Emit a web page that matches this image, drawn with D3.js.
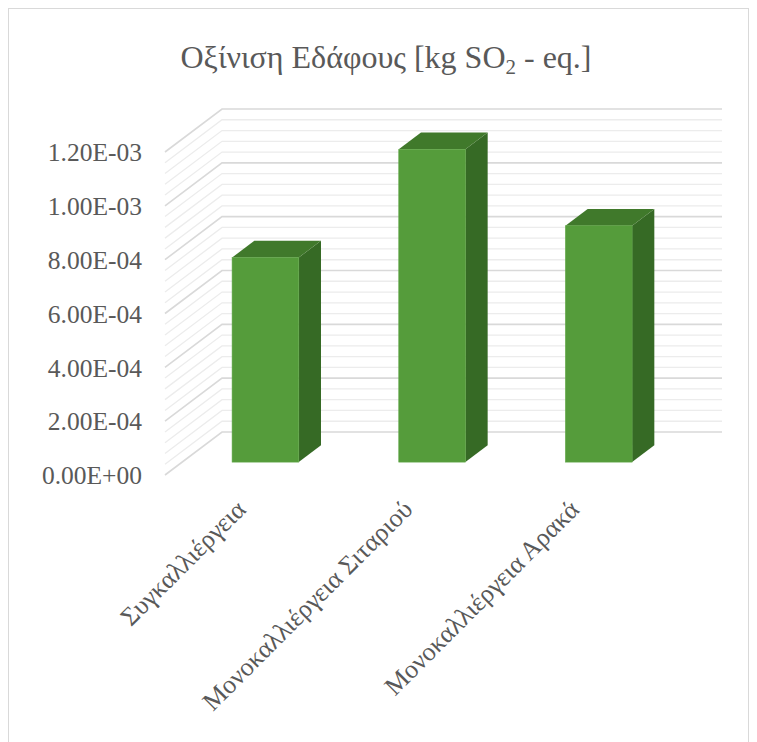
<!DOCTYPE html>
<html><head><meta charset="utf-8">
<script src="https://cdn.jsdelivr.net/npm/d3@7"></script>
<style>html,body{margin:0;padding:0;background:#fff;}svg{display:block;}</style>
</head><body>
<svg id="chart" width="757" height="742"></svg>
<script>
const categories = ["Συγκαλλιέργεια", "Μονοκαλλιέργεια Σιταριού", "Μονοκαλλιέργεια Αρακά"];
const values = [7.6e-4, 1.162e-3, 8.78e-4];
const yTickValues = [0, 2e-4, 4e-4, 6e-4, 8e-4, 1e-3, 1.2e-3];
const yTickLabels = ["0.00E+00", "2.00E-04", "4.00E-04", "6.00E-04", "8.00E-04", "1.00E-03", "1.20E-03"];
const minorStep = 4e-5;

const svg = d3.select("#chart");
const font = "'Liberation Serif','Times New Roman',serif";
const textColor = "#595959";

// chart border
svg.append("rect").attr("x", 8.5).attr("y", 8.5).attr("width", 740).attr("height", 745)
  .attr("fill", "none").attr("stroke", "#d9d9d9").attr("stroke-width", 1);

// 3D geometry
const originX = 165, originY = 475;      // front-left floor corner
const depthDX = 57, depthDY = -43;       // floor depth vector
const plotW = 500;
const x = d3.scaleBand().domain(categories).range([0, plotW]).paddingInner(0.6).paddingOuter(0.3);
const y = d3.scaleLinear().domain([0, 1.2e-3]).range([0, 323]);
const P = (px, v, f) => [originX + px + depthDX * f, originY + depthDY * f - y(v)];

// gridlines
const nMinor = Math.round(1.2e-3 / minorStep);
const gridVals = d3.range(0, nMinor + 1).map(i => i * minorStep);
const gGrid = svg.append("g");
gridVals.forEach((v, i) => {
  if (i % 5 === 0) return;
  const pts = [P(0, v, 0), P(0, v, 1), P(plotW, v, 1)];
  gGrid.append("path").attr("d", d3.line()(pts)).attr("fill", "none")
    .attr("stroke", "#ececec").attr("stroke-width", 1.3);
});
gridVals.forEach((v, i) => {
  if (i % 5 !== 0) return;
  const pts = [P(0, v, 0), P(0, v, 1), P(plotW, v, 1)];
  gGrid.append("path").attr("d", d3.line()(pts)).attr("fill", "none")
    .attr("stroke", "#d9d9d9").attr("stroke-width", 1.6);
});

// bars
const f0 = 0.30, f1 = 0.69;
const gBars = svg.append("g");
categories.forEach((c, i) => {
  const v = values[i];
  const xl = x(c), xr = x(c) + x.bandwidth();
  gBars.append("path").attr("d", d3.line()([P(xr, 0, f0), P(xr, 0, f1), P(xr, v, f1), P(xr, v, f0)]) + "Z")
    .attr("fill", "#366a25");
  gBars.append("path").attr("d", d3.line()([P(xl, v, f0), P(xr, v, f0), P(xr, v, f1), P(xl, v, f1)]) + "Z")
    .attr("fill", "#40792b");
  const a = P(xl, v, f0), b = P(xr, 0, f0);
  gBars.append("rect").attr("x", a[0]).attr("y", a[1]).attr("width", b[0] - a[0]).attr("height", b[1] - a[1])
    .attr("fill", "#559c3b").attr("stroke", "#5ea644").attr("stroke-width", 0.6);
});

// y tick labels
const gY = svg.append("g");
yTickValues.forEach((v, i) => {
  const p = P(0, v, 0);
  gY.append("text").attr("x", 142).attr("y", p[1]).attr("dy", "0.36em")
    .attr("text-anchor", "end").attr("font-family", font).attr("font-size", 25.5)
    .attr("fill", textColor).text(yTickLabels[i]);
});

// x labels
const gX = svg.append("g");
categories.forEach(c => {
  const cx = originX + x(c) + x.bandwidth() / 2 - 1;
  const cy = 511;
  gX.append("text").attr("transform", `translate(${cx},${cy}) rotate(-45)`)
    .attr("text-anchor", "end").attr("font-family", font).attr("font-size", 26)
    .attr("fill", textColor).text(c);
});

// title
const title = svg.append("text").attr("x", 386).attr("y", 68).attr("text-anchor", "middle")
  .attr("font-family", font).attr("font-size", 32).attr("fill", textColor);
title.append("tspan").text("Οξίνιση Εδάφους [kg SO");
title.append("tspan").attr("font-size", 21).attr("dy", 6).text("2");
title.append("tspan").attr("dy", -6).text(" - eq.]");
</script>
</body></html>
